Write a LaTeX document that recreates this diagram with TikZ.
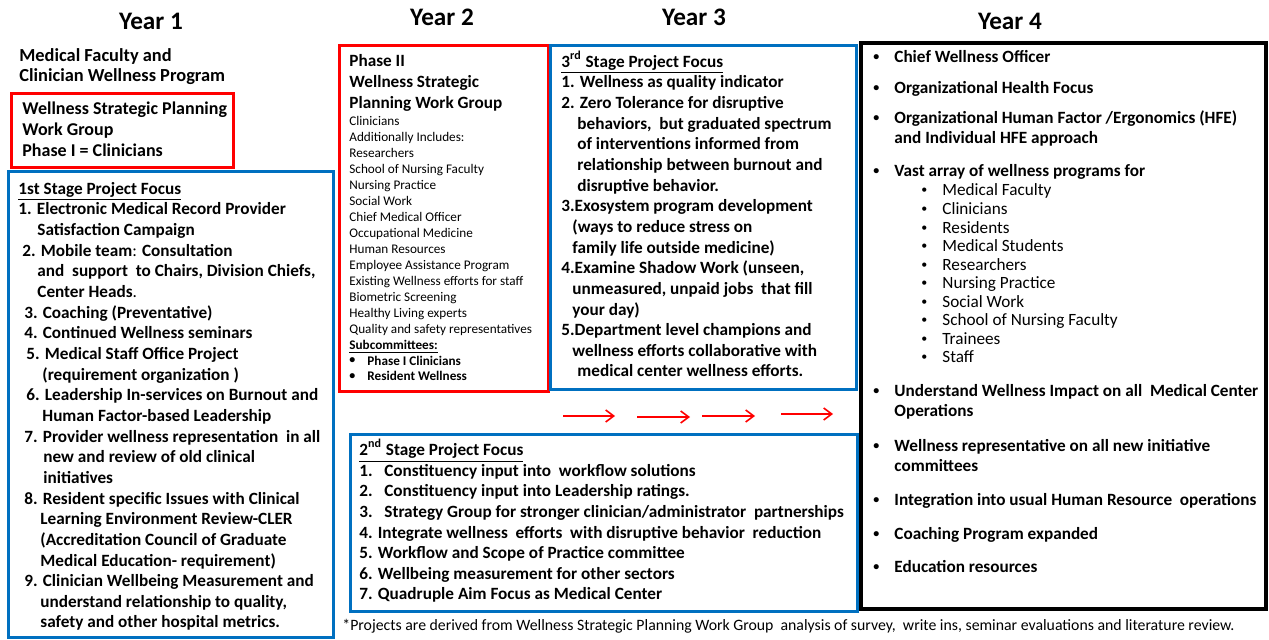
\documentclass[tikz,border=0pt]{standalone}
\usepackage{fontspec}
\setmainfont{Carlito}
\usepackage{tikz}
\usepackage{xcolor}
\usetikzlibrary{arrows.meta,positioning}
\definecolor{boxred}{RGB}{255,0,0}
\definecolor{boxblue}{RGB}{0,112,192}

\tikzset{
  yearlbl/.style={anchor=base,inner sep=0pt,font=\bfseries\fontsize{12.6}{15}\selectfont},
  % multi-line blocks are placed at the baseline of their last line
  txt/.style={anchor=base west,align=left,inner sep=0pt,font=\bfseries\fontsize{8.6}{10.33}\selectfont},
  smalltxt/.style={anchor=base west,align=left,inner sep=0pt,font=\fontsize{6.6}{7.97}\selectfont},
  redbox/.style={draw=boxred,line width=1.5pt},
  bluebox/.style={draw=boxblue,line width=1.5pt},
  blackbox/.style={draw=black,line width=1.6pt},
  flow/.style={->,boxred,line width=0.8pt}
}
\newcommand{\dotmark}{\raisebox{0.12em}{\fontsize{6}{6}\selectfont\textbullet}}
\newcommand{\bul}{\makebox[10.5pt][l]{\dotmark}}
\newcommand{\ind}[1]{\hspace*{#1pt}}

\begin{document}
\begin{tikzpicture}[x=0.5pt,y=-0.5pt,>={Straight Barb[length=4pt,width=6pt]}]
  \useasboundingbox (0,0) rectangle (1269,640);

  % 年份标题
  \node[yearlbl] (y1) at (151,30) {Year 1};
  \node[yearlbl] (y2) at (442,26) {Year 2};
  \node[yearlbl] (y3) at (694,26) {Year 3};
  \node[yearlbl] (y4) at (1010,30) {Year 4};

  % Year 1
  \node[txt,font=\bfseries\fontsize{9.2}{10}\selectfont] (prog) at (19,82)
    {Medical Faculty and\\Clinician Wellness Program};
  \draw[redbox] (11,94) rectangle (233,168);
  \node[txt,font=\bfseries\fontsize{9}{10.5}\selectfont] (phase1) at (22,157)
    {Wellness Strategic Planning\\Work Group\\Phase I = Clinicians};
  \draw[bluebox] (8,172) rectangle (333,638);
  \node[txt] (stage1) at (18,628) {%
    \underline{1st Stage Project Focus}\\
    1. Electronic Medical Record Provider\\
    \ind{9.5}Satisfaction Campaign\\
    \ind{2}2. Mobile team{\mdseries:} Consultation\\
    \ind{9.5}and\ \ support\ \ to Chairs, Division Chiefs,\\
    \ind{9.5}Center Heads{\mdseries.}\\
    \ind{3}3. Coaching (Preventative)\\
    \ind{3}4. Continued Wellness seminars\\
    \ind{4}5. Medical Staff Office Project\\
    \ind{12}(requirement organization )\\
    \ind{4}6. Leadership In-services on Burnout and\\
    \ind{12}Human Factor-based Leadership\\
    \ind{3}7. Provider wellness representation\ \ in all\\
    \ind{12.5}new and review of old clinical\\
    \ind{12.5}initiatives\\
    \ind{3}8. Resident specific Issues with Clinical\\
    \ind{11}Learning Environment Review-CLER\\
    \ind{11}(Accreditation Council of Graduate\\
    \ind{11}Medical Education- requirement)\\
    \ind{3}9. Clinician Wellbeing Measurement and\\
    \ind{11}understand relationship to quality,\\
    \ind{11}safety and other hospital metrics.};

  % Year 2
  \draw[redbox] (339,46) rectangle (548,392);
  \node[txt,font=\bfseries\fontsize{8.6}{10.5}\selectfont] (phase2) at (349,109)
    {Phase II\\Wellness Strategic\\Planning Work Group};
  \node[smalltxt] (members) at (349,381) {%
    Clinicians\\
    Additionally Includes:\\
    Researchers\\
    School of Nursing Faculty\\
    Nursing Practice\\
    Social Work\\
    Chief Medical Officer\\
    Occupational Medicine\\
    Human Resources\\
    Employee Assistance Program\\
    Existing Wellness efforts for staff\\
    Biometric Screening\\
    Healthy Living experts\\
    Quality and safety representatives\\
    \textbf{\underline{Subcommittees:}}\\
    \textbf{\makebox[9pt][l]{\dotmark}Phase I Clinicians}\\
    \textbf{\makebox[9pt][l]{\dotmark}Resident Wellness}};

  \draw[bluebox] (350,435) rectangle (857,612);
  \node[txt] (stage2) at (359,600) {%
    \underline{2\textsuperscript{nd} Stage Project Focus}\\
    \makebox[12.5pt][l]{1.}Constituency input into\ \ workflow solutions\\
    \makebox[12.5pt][l]{2.}Constituency input into Leadership ratings.\\
    \makebox[12.5pt][l]{3.}Strategy Group for stronger clinician/administrator\ \ partnerships\\
    4. Integrate wellness\ \ efforts\ \ with disruptive behavior\ \ reduction\\
    5. Workflow and Scope of Practice committee\\
    6. Wellbeing measurement for other sectors\\
    7. Quadruple Aim Focus as Medical Center};

  % Year 3
  \draw[bluebox] (550,46) rectangle (856,390);
  \node[txt] (stage3) at (561,377) {%
    \underline{3\textsuperscript{rd} Stage Project Focus}\\
    1. Wellness as quality indicator\\
    2. Zero Tolerance for disruptive\\
    \ind{8}behaviors,\ \ but graduated spectrum\\
    \ind{8}of interventions informed from\\
    \ind{8}relationship between burnout and\\
    \ind{8}disruptive behavior.\\
    3.Exosystem program development\\
    \ind{5.5}(ways to reduce stress on\\
    \ind{5.5}family life outside medicine)\\
    4.Examine Shadow Work (unseen,\\
    \ind{5.5}unmeasured, unpaid jobs\ \ that fill\\
    \ind{5.5}your day)\\
    5.Department level champions and\\
    \ind{5.5}wellness efforts collaborative with\\
    \ind{8}medical center wellness efforts.};

  % 红色箭头
  \coordinate (a1s) at (563,416); \coordinate (a1e) at (615,416);
  \coordinate (a2s) at (637,417); \coordinate (a2e) at (690,417);
  \coordinate (a3s) at (702,416); \coordinate (a3e) at (755,416);
  \coordinate (a4s) at (781,414); \coordinate (a4e) at (833,414);
  \draw[flow] (a1s) -- (a1e);
  \draw[flow] (a2s) -- (a2e);
  \draw[flow] (a3s) -- (a3e);
  \draw[flow] (a4s) -- (a4e);

  % Year 4
  \draw[blackbox] (861,43) rectangle (1266,609);
  \node[txt] (cwo) at (873,63) {\bul Chief Wellness Officer};
  \node[txt] (ohf) at (873,94) {\bul Organizational Health Focus};
  \node[txt] (hfe) at (873,144)
    {\bul Organizational Human Factor /Ergonomics (HFE)\\\ind{10.5}and Individual HFE approach};
  \node[txt] (vast) at (873,177) {\bul Vast array of wellness programs for};
  \node[txt,font=\fontsize{8.6}{9.28}\selectfont] (groups) at (921,363) {%
    \bul Medical Faculty\\
    \bul Clinicians\\
    \bul Residents\\
    \bul Medical Students\\
    \bul Researchers\\
    \bul Nursing Practice\\
    \bul Social Work\\
    \bul School of Nursing Faculty\\
    \bul Trainees\\
    \bul Staff};
  \node[txt] (impact) at (873,417)
    {\bul Understand Wellness Impact on all\ \ Medical Center\\\ind{10.5}Operations};
  \node[txt] (rep) at (873,472)
    {\bul Wellness representative on all new initiative\\\ind{10.5}committees};
  \node[txt] (hr) at (873,506) {\bul Integration into usual Human Resource\ \ operations};
  \node[txt] (coach) at (873,540) {\bul Coaching Program expanded};
  \node[txt] (edu) at (873,573) {\bul Education resources};

  % 脚注
  \node[txt,font=\fontsize{7.9}{9}\selectfont] (note) at (342,631)
    {*Projects are derived from Wellness Strategic Planning Work Group\ \ analysis of survey,\ \ write ins, seminar evaluations and literature review.};
\end{tikzpicture}
\end{document}
